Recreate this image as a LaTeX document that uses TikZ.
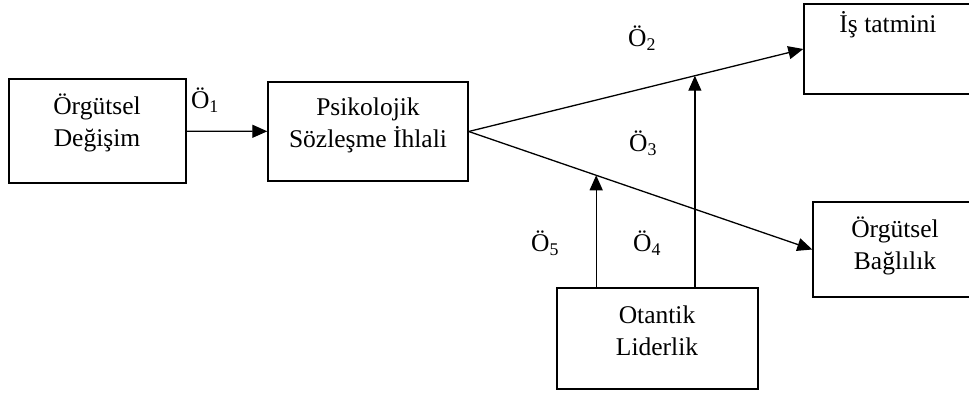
\documentclass[tikz,border=0pt]{standalone}
\usepackage{fontspec}
\setmainfont{Liberation Serif}
\usepackage{tikz}
\usetikzlibrary{calc,arrows.meta}

\tikzset{
box/.style={draw, line width=1.4pt, inner sep=0pt},
txt/.style={align=center, font=\fontsize{25.5}{32}\selectfont, inner sep=0pt},
lbl/.style={font=\fontsize{25.5}{30}\selectfont, inner sep=0pt},
arr/.style={line width=1.3pt, -{Triangle[length=15pt,width=13pt]}}
}

\begin{document}
\begin{tikzpicture}[x=1pt,y=-1pt]
\useasboundingbox (0,0) rectangle (969,393);
\clip (0,0) rectangle (969,393);
\node[box, minimum width=177pt, minimum height=104pt] (degisim) at (97.5,131) {};
\node[box, minimum width=200pt, minimum height=99pt] (ihlal) at (368,131.5) {};
\node[box, minimum width=171pt, minimum height=90pt] (tatmin) at (889.5,49) {};
\node[box, minimum width=164pt, minimum height=95pt] (baglilik) at (895,249.5) {};
\node[box, minimum width=201pt, minimum height=101pt] (otantik) at (657.5,338.5) {};

\node[txt] (degisimtxt) at (97,123) {Örgütsel\\Değişim};
\node[txt] (ihlaltxt) at (368,125) {Psikolojik\\Sözleşme İhlali};
\node[txt] (tatmintxt) at (888,25) {İş tatmini};
\node[txt] (baglilitxt) at (895,246) {Örgütsel\\Bağlılık};
\node[txt] (otantiktxt) at (657,331) {Otantik\\Liderlik};

\draw[arr] (degisim) -- (ihlal);
\draw[arr] (ihlal.east) -- (tatmin.west);
\draw[arr] (ihlal.east) -- (baglilik.west);

\coordinate (m4) at ($(ihlal.east)!0.676!(tatmin.west)$);
\coordinate (m5) at ($(ihlal.east)!0.371!(baglilik.west)$);
\draw[arr] (otantik.north -| m4) -- (m4);
\draw[arr] (otantik.north -| m5) -- (m5);

\node[lbl] (o1) at (205,100) {Ö\textsubscript{1}};
\node[lbl] (o2) at (642,38) {Ö\textsubscript{2}};
\node[lbl] (o3) at (643,143) {Ö\textsubscript{3}};
\node[lbl] (o4) at (647,243) {Ö\textsubscript{4}};
\node[lbl] (o5) at (545,243) {Ö\textsubscript{5}};
\end{tikzpicture}
\end{document}
